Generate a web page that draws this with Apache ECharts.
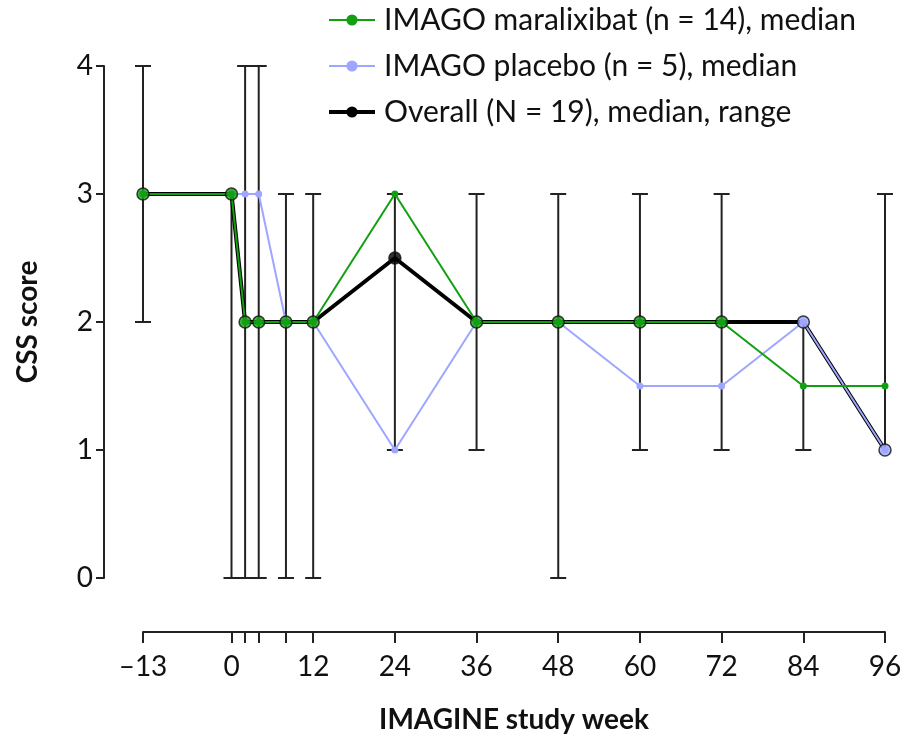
<!DOCTYPE html>
<html>
<head>
<meta charset="utf-8">
<script src="https://cdn.jsdelivr.net/npm/echarts@6/dist/echarts.min.js"></script>
<style>html,body{margin:0;padding:0;background:#fff;}#c{width:906px;height:734px;}</style>
</head>
<body>
<div id="c"></div>
<script>
const weeks = [-13, 0, 2, 4, 8, 12, 24, 36, 48, 60, 72, 84, 96];
const maralixibat = [3, 3, 2, 2, 2, 2, 3, 2, 2, 2, 2, 1.5, 1.5];
const placebo = [3, 3, 3, 3, 2, 2, 1, 2, 2, 1.5, 1.5, 2, 1];
const overall = [3, 3, 2, 2, 2, 2, 2.5, 2, 2, 2, 2, 2, 1];
const overallMin = [2, 0, 0, 0, 0, 0, 1, 1, 0, 1, 1, 1, 1];
const overallMax = [4, 3, 4, 4, 3, 3, 3, 3, 3, 3, 3, 2, 3];
const tickValues = [-13, 0, 2, 4, 8, 12, 24, 36, 48, 60, 72, 84, 96];
const labelValues = [-13, 0, 12, 24, 36, 48, 60, 72, 84, 96];
const seriesNames = ['IMAGO maralixibat (n = 14), median', 'IMAGO placebo (n = 5), median', 'Overall (N = 19), median, range'];

const GREEN = '#11a011';
const LAV = '#9ea6ff';
const FONT = 'Lato';

const pair = (arr) => weeks.map((w, i) => [w, arr[i]]);

const markerData = weeks.map((w, i) => {
  let fill = '#000';
  if (maralixibat[i] === overall[i]) fill = GREEN;
  else if (placebo[i] === overall[i]) fill = LAV;
  return { value: [w, overall[i]], itemStyle: { color: fill } };
});

const errData = weeks.map((w, i) => [w, overallMin[i], overallMax[i], overall[i]]);

const chart = echarts.init(document.getElementById('c'));
chart.setOption({
  animation: false,
  backgroundColor: '#fff',
  textStyle: { fontFamily: FONT },
  grid: { left: 143, right: 21, top: 66, bottom: 156, containLabel: false, outerBoundsMode: 'none' },
  legend: {
    data: [
      { name: seriesNames[0] },
      { name: seriesNames[1] },
      { name: seriesNames[2], lineStyle: { width: 4 } }
    ],
    orient: 'vertical',
    left: 322,
    top: 0,
    itemWidth: 46,
    itemHeight: 14,
    itemGap: 16,
    textStyle: { fontFamily: FONT, fontSize: 30, color: '#111', padding: [0, 0, 0, 4] }
  },
  xAxis: {
    type: 'value',
    min: -13,
    max: 96,
    offset: 54,
    splitLine: { show: false },
    axisLine: { show: true, onZero: false, lineStyle: { color: '#222', width: 2 } },
    axisTick: { show: true, length: 11, lineStyle: { color: '#222', width: 2 }, customValues: tickValues },
    axisLabel: {
      customValues: labelValues,
      fontFamily: FONT, fontSize: 28, color: '#111', margin: 21,
      formatter: (v) => (v < 0 ? '\u2013' + Math.abs(v) : String(v))
    },
    name: 'IMAGINE study week',
    nameLocation: 'middle',
    nameGap: 74,
    nameTextStyle: { fontFamily: FONT, fontSize: 28, fontWeight: 'bold', color: '#111' }
  },
  yAxis: {
    type: 'value',
    min: 0,
    max: 4,
    interval: 1,
    offset: 39,
    splitLine: { show: false },
    axisLine: { show: true, onZero: false, lineStyle: { color: '#222', width: 2 } },
    axisTick: { show: true, length: 8, lineStyle: { color: '#222', width: 2 } },
    axisLabel: { fontFamily: FONT, fontSize: 28, color: '#111', margin: 11 },
    name: 'CSS score',
    nameLocation: 'middle',
    nameGap: 62,
    nameTextStyle: { fontFamily: FONT, fontSize: 28, fontWeight: 'bold', color: '#111' }
  },
  series: [
    {
      type: 'custom',
      name: 'range',
      z: 1,
      silent: true,
      data: errData,
      renderItem: function (params, api) {
        const x = api.value(0), lo = api.value(1), hi = api.value(2), med = api.value(3);
        const pLo = api.coord([x, lo]);
        const pHi = api.coord([x, hi]);
        const cw = 8;
        const style = { stroke: '#222', lineWidth: 2 };
        const children = [
          { type: 'line', shape: { x1: pLo[0], y1: pLo[1], x2: pHi[0], y2: pHi[1] }, style: style }
        ];
        if (lo !== med) children.push({ type: 'line', shape: { x1: pLo[0] - cw, y1: pLo[1], x2: pLo[0] + cw, y2: pLo[1] }, style: style });
        if (hi !== med) children.push({ type: 'line', shape: { x1: pHi[0] - cw, y1: pHi[1], x2: pHi[0] + cw, y2: pHi[1] }, style: style });
        return { type: 'group', children: children };
      }
    },
    {
      type: 'line',
      name: seriesNames[2],
      z: 2,
      data: pair(overall),
      symbol: 'circle',
      symbolSize: 12,
      showSymbol: false,
      lineStyle: { color: '#000', width: 4 },
      itemStyle: { color: '#000' }
    },
    {
      type: 'line',
      name: seriesNames[1],
      z: 3,
      data: pair(placebo),
      symbol: 'circle',
      symbolSize: 7,
      lineStyle: { color: LAV, width: 2 },
      itemStyle: { color: LAV }
    },
    {
      type: 'line',
      name: seriesNames[0],
      z: 4,
      data: pair(maralixibat),
      symbol: 'circle',
      symbolSize: 7,
      lineStyle: { color: GREEN, width: 2 },
      itemStyle: { color: GREEN }
    },
    {
      type: 'scatter',
      name: 'overall markers',
      z: 5,
      data: markerData,
      symbol: 'circle',
      symbolSize: 12,
      itemStyle: { borderColor: '#111', borderWidth: 1.5 }
    }
  ]
});
</script>
</body>
</html>
